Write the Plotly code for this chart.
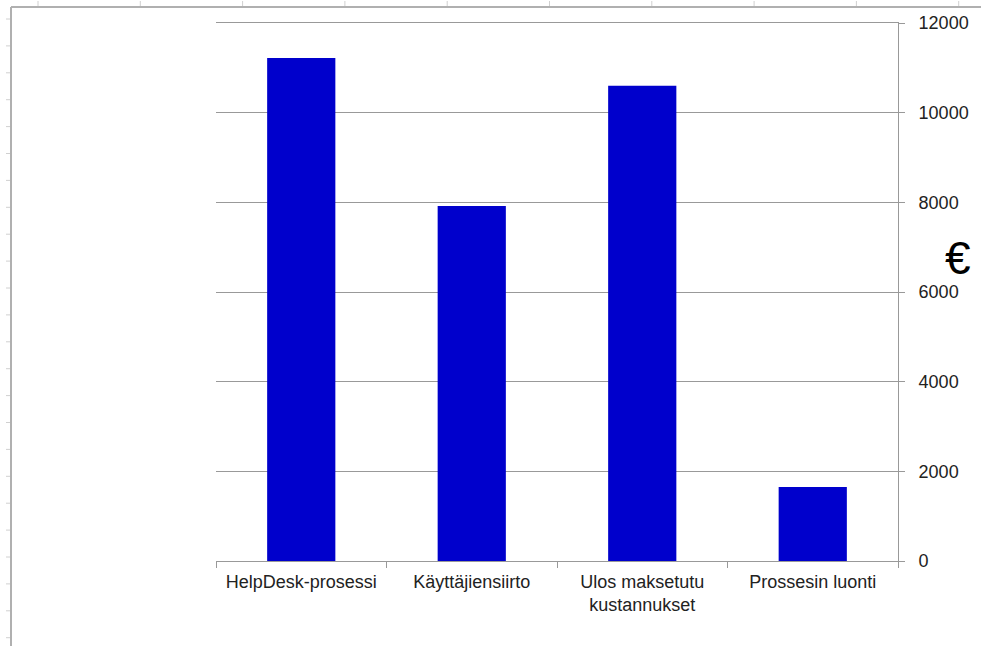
import plotly.graph_objects as go

categories = ["HelpDesk-prosessi", "Käyttäjiensiirto", "Ulos maksetutu<br>kustannukset", "Prossesin luonti"]
values = [11220, 7920, 10600, 1650]
y_ticks = [0, 2000, 4000, 6000, 8000, 10000, 12000]
y_tick_labels = ["0", "2000", "4000", "6000", "8000", "10000", "12000"]

W, H = 981, 646
L, R, T, B = 216, 898, 23, 561

def px(x):
    return (x - L) / (R - L)

def py(y):
    return (B - y) / (B - T)

fig = go.Figure(go.Bar(x=categories, y=values, marker=dict(color="#0000CC", line=dict(width=0)), width=0.4))

shapes = []
# spreadsheet frame decoration
shapes.append(dict(type="line", xref="paper", yref="paper", x0=px(11), x1=px(11), y0=py(7), y1=py(646),
                   line=dict(color="#b0b0b0", width=2)))
shapes.append(dict(type="line", xref="paper", yref="paper", x0=px(11), x1=px(981), y0=py(7), y1=py(7),
                   line=dict(color="#b0b0b0", width=2)))
yy = 19
while yy < 646:
    shapes.append(dict(type="line", xref="paper", yref="paper", x0=px(6), x1=px(10), y0=py(yy), y1=py(yy),
                       line=dict(color="#d0d0d0", width=1)))
    yy += 26.9
xx = 38
while xx < 981:
    shapes.append(dict(type="line", xref="paper", yref="paper", x0=px(xx), x1=px(xx), y0=py(1), y1=py(6),
                       line=dict(color="#d0d0d0", width=1)))
    xx += 102.3

fig.update_layout(
    width=W, height=H,
    margin=dict(l=L, r=W - R, t=T, b=H - B, pad=0, autoexpand=False),
    paper_bgcolor="white", plot_bgcolor="white",
    showlegend=False,
    bargap=0.6,
    font=dict(family="Liberation Sans, Arial, sans-serif", size=18, color="#222"),
    xaxis=dict(
        type="category", showline=True, mirror=True, linecolor="#999", linewidth=1,
        ticks="outside", tickson="boundaries", ticklen=6, tickcolor="#999",
        showgrid=False, tickfont=dict(size=18, color="#222"), automargin=False,
        ticklabelstandoff=4,
    ),
    yaxis=dict(
        side="right", range=[0, 12000], tickvals=y_ticks, ticktext=y_tick_labels,
        showline=True, linecolor="#999", linewidth=1,
        ticks="outside", ticklen=6, tickcolor="#999",
        showgrid=True, gridcolor="#999", gridwidth=1,
        zeroline=False, tickfont=dict(size=18, color="#222"),
        ticklabelstandoff=10, automargin=False,
    ),
    shapes=shapes,
    annotations=[dict(text="€", xref="paper", yref="paper", x=px(958), y=py(258), showarrow=False,
                      xanchor="center", yanchor="middle",
                      font=dict(size=46, color="black", family="Liberation Sans, Arial, sans-serif"))],
)

fig.write_html(
    "out.html",
    config={"displayModeBar": False},
    post_script="document.body.style.margin='0';document.body.style.overflow='hidden';",
)
